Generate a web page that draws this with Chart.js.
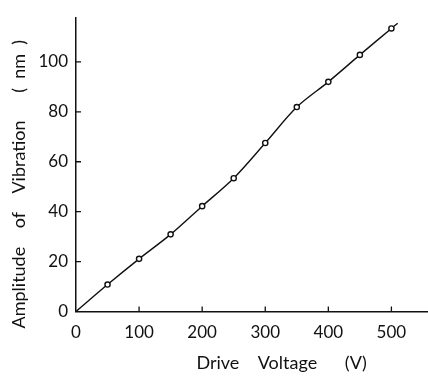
<!DOCTYPE html>
<html>
<head>
<meta charset="utf-8">
<script src="https://cdn.jsdelivr.net/npm/chart.js@4.4.0/dist/chart.umd.min.js"></script>
<style>
html,body{margin:0;padding:0;background:#fff;}
#wrap{width:428px;height:378px;position:relative;}
</style>
</head>
<body>
<div id="wrap"><canvas id="c" width="428" height="378"></canvas></div>
<script>
// Data
const voltages   = [0, 50, 100, 150, 200, 250, 300, 350, 400, 450, 500, 510];
const amplitudes = [0, 10.8, 21.1, 30.9, 42.2, 53.4, 67.5, 81.9, 92.0, 102.8, 113.4, 115.5];
const markerShown = [false, true, true, true, true, true, true, true, true, true, true, false];
const xTickValues = [0, 100, 200, 300, 400, 500];
const yTickValues = [0, 20, 40, 60, 80, 100];
const xTitle = "Drive    Voltage      (V)";
const yTitle = "Amplitude    of    Vibration      (  nm  )";

const FONT = "Lato, 'DejaVu Sans', sans-serif";

const decorations = {
  id: 'decorations',
  afterDraw(chart) {
    const ctx = chart.ctx;
    const x = chart.scales.x, y = chart.scales.y;
    ctx.save();
    ctx.strokeStyle = '#111';
    ctx.lineWidth = 1.3;
    ctx.beginPath();
    xTickValues.forEach(v => {
      if (v === 0) return;
      const px = x.getPixelForValue(v);
      ctx.moveTo(px, y.bottom);
      ctx.lineTo(px, y.bottom - 5);
    });
    yTickValues.forEach(v => {
      if (v === 0) return;
      const py = y.getPixelForValue(v);
      ctx.moveTo(x.left, py);
      ctx.lineTo(x.left + 5, py);
    });
    ctx.stroke();
    // axis titles
    ctx.fillStyle = '#111';
    ctx.font = "18px " + FONT;
    ctx.textAlign = 'center';
    ctx.textBaseline = 'middle';
    ctx.fillText(xTitle, x.getPixelForValue(326), 363);
    ctx.translate(19, y.getPixelForValue(51));
    ctx.rotate(-Math.PI / 2);
    ctx.fillText(yTitle, 0, 0);
    ctx.restore();
  }
};

new Chart(document.getElementById('c'), {
  type: 'line',
  data: {
    datasets: [{
      data: voltages.map((v, i) => ({x: v, y: amplitudes[i]})),
      borderColor: '#111',
      borderWidth: 1.4,
      tension: 0.3,
      pointRadius: markerShown.map(s => s ? 2.6 : 0),
      pointBorderWidth: 1.4,
      pointBorderColor: '#111',
      pointBackgroundColor: '#fff',
      fill: false
    }]
  },
  options: {
    responsive: false,
    animation: false,
    devicePixelRatio: 1,
    layout: { padding: { top: 12, right: 0, left: 0, bottom: 0 } },
    plugins: { legend: { display: false }, tooltip: { enabled: false } },
    scales: {
      x: {
        type: 'linear',
        min: 0, max: 558,
        afterFit(s) { s.height = 66.5; },
        border: { display: true, color: '#111', width: 1.5 },
        grid: { display: false, drawTicks: false },
        afterBuildTicks(s) { s.ticks = xTickValues.map(v => ({value: v})); },
        ticks: {
          padding: 11,
          color: '#111',
          font: { family: FONT, size: 17 },
          maxRotation: 0
        },
        title: { display: false }
      },
      y: {
        type: 'linear',
        min: 0, max: 117.5,
        afterFit(s) { s.width = 76; },
        border: { display: true, color: '#111', width: 1.5 },
        grid: { display: false, drawTicks: false },
        afterBuildTicks(s) { s.ticks = yTickValues.map(v => ({value: v})); },
        ticks: {
          padding: 8,
          color: '#111',
          font: { family: FONT, size: 17 }
        },
        title: { display: false }
      }
    }
  },
  plugins: [decorations]
});
</script>
</body>
</html>
